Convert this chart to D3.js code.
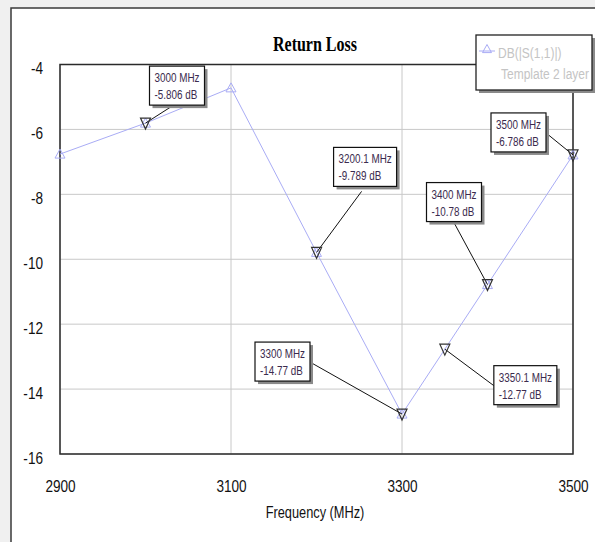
<!DOCTYPE html>
<html>
<head>
<meta charset="utf-8">
<script src="https://cdn.jsdelivr.net/npm/d3@7"></script>
<style>
  html, body { margin: 0; padding: 0; background: #f0f0f0; }
  svg { display: block; }
  text { font-family: "Liberation Sans", Arial, sans-serif; }
  text.title { font-family: "Liberation Serif", "Times New Roman", serif; font-weight: bold; }
</style>
</head>
<body>
<svg id="chart" width="595" height="542"></svg>
<script>
// Return loss trace, DB(|S(1,1)|)
const freqs = [2900, 3000, 3100, 3200, 3300, 3400, 3500];
const dbValues = [-6.76, -5.806, -4.72, -9.789, -14.77, -10.78, -6.786];

// Marker readouts
const markerFreqs = [3000, 3200.1, 3500, 3400, 3300, 3350.1];
const markerDb = [-5.806, -9.789, -6.786, -10.78, -14.77, -12.77];
const markerFreqText = ["3000 MHz", "3200.1 MHz", "3500 MHz", "3400 MHz", "3300 MHz", "3350.1 MHz"];
const markerDbText = ["-5.806 dB", "-9.789 dB", "-6.786 dB", "-10.78 dB", "-14.77 dB", "-12.77 dB"];

// Axis ticks
const xTicks = [2900, 3100, 3300, 3500];
const yTicks = [-4, -6, -8, -10, -12, -14, -16];

const legendLabels = ["DB(|S(1,1)|)", "Template 2 layer"];
const titleText = "Return Loss";
const xTitle = "Frequency (MHz)";

// Layout
const plot = { left: 60, right: 573, top: 64.5, bottom: 454 };
const NARROW = 0.8; // condensed sans face
// box placement for each readout: top-left offset from the marker point, and leader anchor on the box
const readoutLayout = [
  { dx: 4,    dy: -57,  anchor: [21, 41] },
  { dx: 17,   dy: -105, anchor: [28, 44] },
  { dx: -82,  dy: -42,  anchor: ["r", 20] },
  { dx: -61,  dy: -102, anchor: [28, 41] },
  { dx: -147, dy: -72,  anchor: ["r", 20] },
  { dx: 49,   dy: 16.5, anchor: [0, 20] }
];

const svg = d3.select("#chart");

// condensed text helper
function ntext(sel, x0, y0, str, size, anchor, fill, sx = NARROW) {
  return sel.append("text")
    .attr("transform", `translate(${x0},${y0}) scale(${sx},1)`)
    .attr("text-anchor", anchor || "start")
    .attr("font-size", size).attr("fill", fill || "#111").text(str);
}

// White panel with its outer frame
svg.append("rect").attr("x", 11).attr("y", 8).attr("width", 600).attr("height", 600)
  .attr("fill", "#ffffff").attr("stroke", "#3a3a3a").attr("stroke-width", 1.5);

const x = d3.scaleLinear().domain([2900, 3500]).range([plot.left, plot.right]);
const y = d3.scaleLinear().domain([-16, -4]).range([plot.bottom, plot.top]);

// Grid
const grid = svg.append("g");
grid.selectAll("line.v").data(xTicks).join("line").attr("class", "v")
  .attr("x1", d => x(d)).attr("x2", d => x(d))
  .attr("y1", plot.top).attr("y2", plot.bottom)
  .attr("stroke", "#c8c8c8").attr("stroke-width", 1);
grid.selectAll("line.h").data(yTicks).join("line").attr("class", "h")
  .attr("x1", plot.left).attr("x2", plot.right)
  .attr("y1", d => y(d)).attr("y2", d => y(d))
  .attr("stroke", "#c8c8c8").attr("stroke-width", 1);

// Plot border
svg.append("rect")
  .attr("x", plot.left).attr("y", plot.top)
  .attr("width", plot.right - plot.left).attr("height", plot.bottom - plot.top)
  .attr("fill", "none").attr("stroke", "#2a2a2a").attr("stroke-width", 1.5);

// Axes (labels only)
const fmt = d => String(d);
const xAxis = svg.append("g").attr("transform", `translate(0,${plot.bottom})`)
  .call(d3.axisBottom(x).tickValues(xTicks).tickSize(0).tickPadding(0).tickFormat(fmt));
xAxis.select(".domain").remove();
xAxis.attr("font-family", null).attr("font-size", null);
xAxis.selectAll("text")
  .attr("font-size", 17).attr("fill", "#111")
  .attr("dy", null).attr("y", null)
  .attr("transform", `translate(0,38) scale(${NARROW},1)`);

const yAxis = svg.append("g").attr("transform", `translate(${plot.left},0)`)
  .call(d3.axisLeft(y).tickValues(yTicks).tickSize(0).tickPadding(0).tickFormat(fmt));
yAxis.select(".domain").remove();
yAxis.attr("font-family", null).attr("font-size", null);
yAxis.selectAll("text")
  .attr("font-size", 17).attr("fill", "#111")
  .attr("dy", null).attr("x", null)
  .attr("transform", `translate(-17,9) scale(${NARROW},1)`);

// Title and axis title
svg.append("text").attr("class", "title").attr("transform", "translate(315,51) scale(0.8,1)")
  .attr("text-anchor", "middle").attr("font-size", 20).attr("fill", "#000").text(titleText);
ntext(svg, 315, 518, xTitle, 16, "middle", "#111");

// Trace
const pts = freqs.map((f, i) => [f, dbValues[i]]);
const traceColor = "#a9acf5";
svg.append("path").datum(pts)
  .attr("d", d3.line().x(d => x(d[0])).y(d => y(d[1])))
  .attr("fill", "none").attr("stroke", traceColor).attr("stroke-width", 1);

const upTri = (cx, cy, s) => `M${cx},${cy - s}L${cx + s},${cy + s * 0.8}L${cx - s},${cy + s * 0.8}Z`;
svg.append("g").selectAll("path").data(pts).join("path")
  .attr("d", d => upTri(x(d[0]), y(d[1]), 5))
  .attr("fill", "none").attr("stroke", traceColor).attr("stroke-width", 1);

// Marker readouts
const markers = markerFreqs.map((f, i) => ({ f, v: markerDb[i], t1: markerFreqText[i], t2: markerDbText[i], lay: readoutLayout[i] }));
const mg = svg.append("g");
markers.forEach(m => {
  const px = x(m.f), py = y(m.v);
  const g = mg.append("g");
  const bx = px + m.lay.dx, by = py + m.lay.dy;
  const tmp = g.append("text").attr("font-size", 13).text(m.t1);
  const w1 = tmp.node().getComputedTextLength();
  tmp.text(m.t2);
  const w2 = tmp.node().getComputedTextLength();
  tmp.remove();
  const bw = Math.round(Math.max(w1, w2) * 0.76 + 10), bh = 39;
  const ax = m.lay.anchor[0] === "r" ? bx + bw : bx + m.lay.anchor[0];
  const ay = by + m.lay.anchor[1];
  g.append("line").attr("x1", ax).attr("y1", ay).attr("x2", px).attr("y2", py)
    .attr("stroke", "#111").attr("stroke-width", 1);
  g.append("rect").attr("x", bx + 3).attr("y", by + 3).attr("width", bw).attr("height", bh)
    .attr("fill", "#8a8a8a");
  g.append("rect").attr("x", bx).attr("y", by).attr("width", bw).attr("height", bh)
    .attr("fill", "#fff").attr("stroke", "#111").attr("stroke-width", 1.2);
  ntext(g, bx + 5, by + 16, m.t1, 13, "start", "#3b2b4e", 0.76);
  ntext(g, bx + 5, by + 33, m.t2, 13, "start", "#3b2b4e", 0.76);
  g.append("path")
    .attr("d", `M${px - 5},${py - 5}L${px + 5},${py - 5}L${px},${py + 6}Z`)
    .attr("fill", "none").attr("stroke", "#333").attr("stroke-width", 1.2);
});

// Legend
const lg = svg.append("g");
lg.append("rect").attr("x", 479).attr("y", 38).attr("width", 116).attr("height", 55).attr("fill", "#8a8a8a");
lg.append("rect").attr("x", 476).attr("y", 35).attr("width", 116).attr("height", 55)
  .attr("fill", "#fff").attr("stroke", "#222").attr("stroke-width", 1.3);
lg.append("line").attr("x1", 479).attr("x2", 495).attr("y1", 51).attr("y2", 51)
  .attr("stroke", traceColor).attr("stroke-width", 1);
lg.append("path").attr("d", upTri(487, 49, 4.5)).attr("fill", "none").attr("stroke", traceColor);
legendLabels.forEach((d, i) => {
  ntext(lg, i === 0 ? 498 : 501, 58 + i * 21, d, 15, "start", "#c4c4c4");
});
</script>
</body>
</html>
